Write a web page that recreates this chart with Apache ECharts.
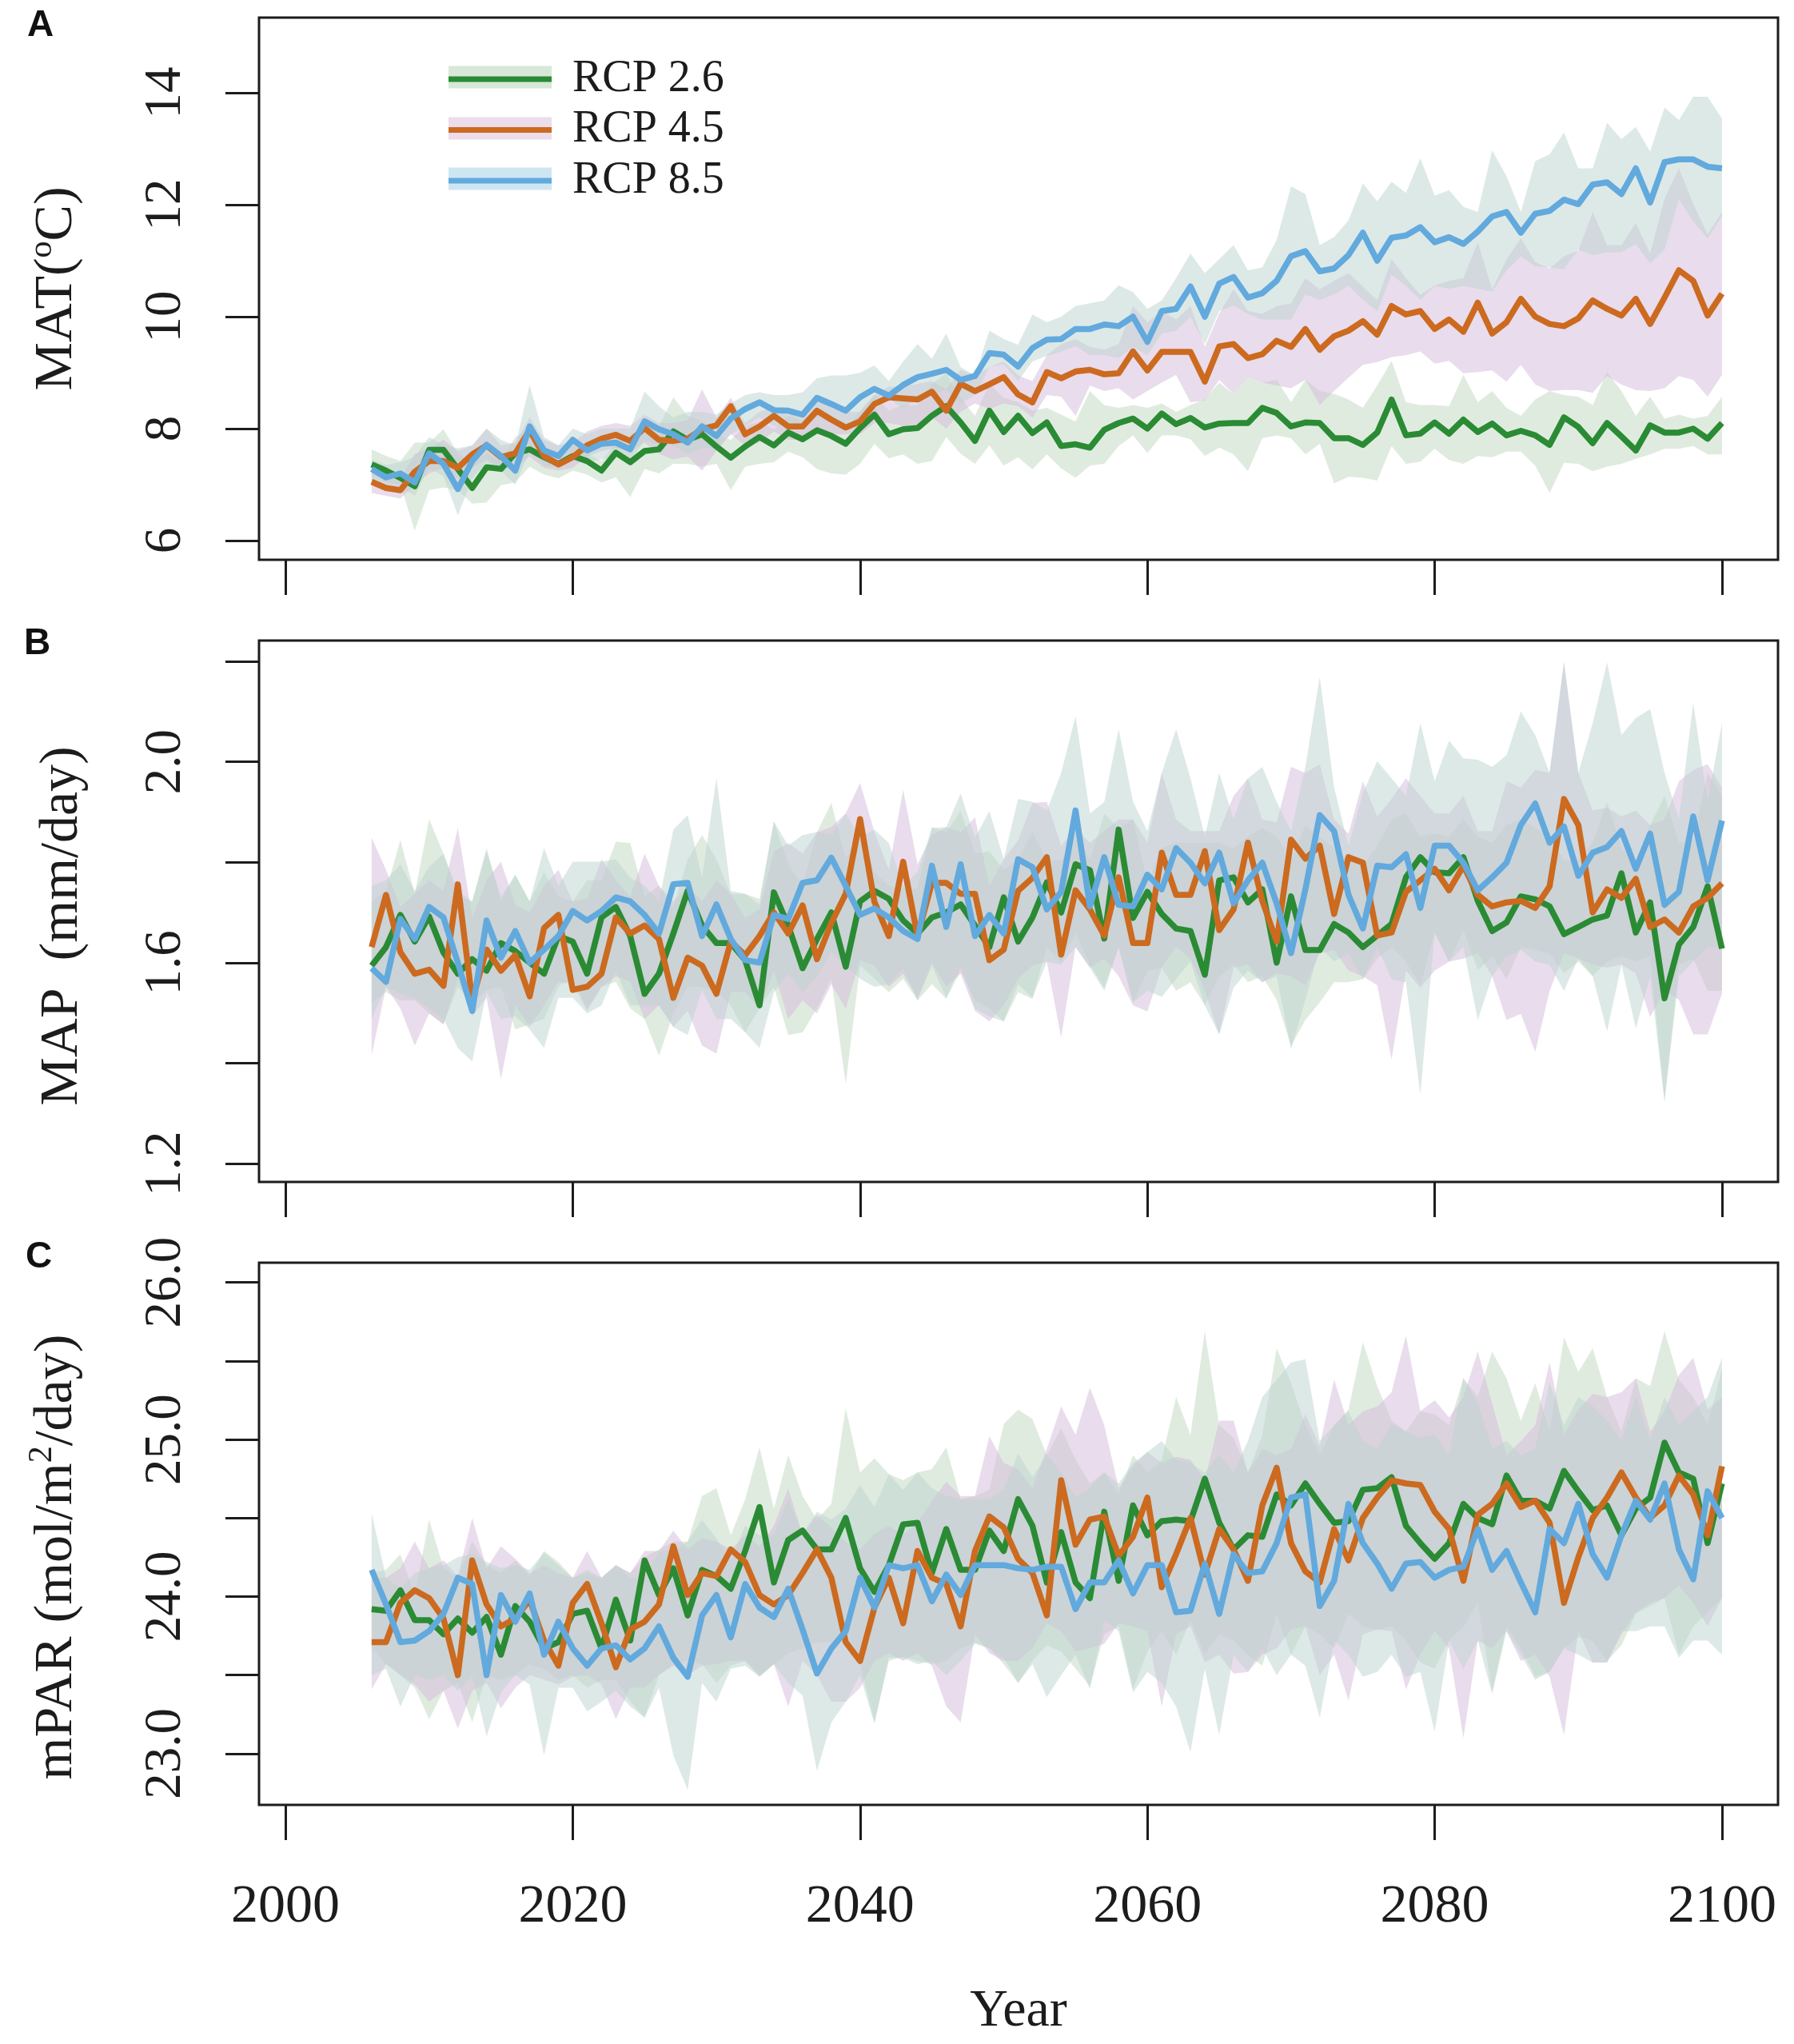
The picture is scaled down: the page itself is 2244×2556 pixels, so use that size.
<!DOCTYPE html>
<html>
<head>
<meta charset="utf-8">
<title>RCP scenarios</title>
<script src="https://cdn.jsdelivr.net/npm/echarts@6/dist/echarts.min.js"></script>
<style>
  html, body { margin: 0; padding: 0; background: #fff; }
  #chart { width: 2244px; height: 2556px; }
</style>
</head>
<body>
<div id="chart"></div>
<script>
var years = [
  2006,2007,2008,2009,2010,2011,2012,2013,2014,2015,
  2016,2017,2018,2019,2020,2021,2022,2023,2024,2025,
  2026,2027,2028,2029,2030,2031,2032,2033,2034,2035,
  2036,2037,2038,2039,2040,2041,2042,2043,2044,2045,
  2046,2047,2048,2049,2050,2051,2052,2053,2054,2055,
  2056,2057,2058,2059,2060,2061,2062,2063,2064,2065,
  2066,2067,2068,2069,2070,2071,2072,2073,2074,2075,
  2076,2077,2078,2079,2080,2081,2082,2083,2084,2085,
  2086,2087,2088,2089,2090,2091,2092,2093,2094,2095,
  2096,2097,2098,2099,2100
];

var rcpNames = ['RCP 2.6', 'RCP 4.5', 'RCP 8.5'];
var xTicks = [2000, 2020, 2040, 2060, 2080, 2100];
var matTicks = [6, 8, 10, 12, 14];
var mapTicks = [1.2, 1.4, 1.6, 1.8, 2.0, 2.2];
var mapLabels = [1.2, 1.6, 2.0];
var parTicks = [23, 23.5, 24, 24.5, 25, 25.5, 26];
var parLabels = [23, 24, 25, 26];

// panel A, MAT
var mat26 = [
  7.36,7.25,7.12,6.97,7.62,7.62,7.28,6.94,7.31,7.28,
  7.56,7.63,7.49,7.37,7.51,7.42,7.25,7.57,7.40,7.60,
  7.63,7.95,7.80,7.90,7.68,7.48,7.68,7.85,7.70,7.93,
  7.81,7.97,7.87,7.73,8.01,8.25,7.90,7.99,8.01,8.23,
  8.40,8.11,7.78,8.32,7.94,8.23,7.92,8.11,7.69,7.72,
  7.66,7.98,8.10,8.18,8.00,8.27,8.08,8.19,8.02,8.09,
  8.10,8.10,8.37,8.28,8.04,8.11,8.10,7.83,7.83,7.71,
  7.93,8.52,7.88,7.91,8.11,7.91,8.16,7.94,8.09,7.88,
  7.96,7.88,7.71,8.20,8.03,7.74,8.10,7.86,7.61,8.06,
  7.93,7.93,8.00,7.82,8.10
];
var mat45 = [
  7.05,6.94,6.90,7.23,7.42,7.42,7.30,7.54,7.70,7.49,
  7.56,7.97,7.51,7.36,7.49,7.70,7.82,7.89,7.78,8.01,
  7.80,7.78,7.82,7.99,8.06,8.40,7.90,8.04,8.23,8.04,
  8.04,8.32,8.16,8.02,8.13,8.44,8.56,8.54,8.52,8.66,
  8.32,8.80,8.67,8.79,8.92,8.61,8.47,9.01,8.90,9.02,
  9.05,8.97,8.99,9.38,9.04,9.37,9.37,9.37,8.84,9.47,
  9.51,9.26,9.33,9.57,9.46,9.78,9.41,9.65,9.75,9.92,
  9.68,10.19,10.04,10.10,9.78,9.95,9.73,10.25,9.70,9.90,
  10.32,10.00,9.87,9.83,9.97,10.29,10.14,10.02,10.32,9.87,
  10.34,10.83,10.64,10.02,10.41
];
var mat85 = [
  7.28,7.13,7.20,7.04,7.56,7.37,6.92,7.42,7.71,7.51,
  7.25,8.04,7.61,7.51,7.80,7.61,7.73,7.75,7.63,8.13,
  7.99,7.90,7.75,8.04,7.87,8.18,8.35,8.47,8.33,8.32,
  8.25,8.55,8.44,8.32,8.56,8.71,8.59,8.78,8.92,8.98,
  9.05,8.87,8.94,9.35,9.32,9.11,9.44,9.59,9.60,9.78,
  9.78,9.86,9.83,10.00,9.55,10.10,10.14,10.54,10.00,10.59,
  10.71,10.34,10.42,10.64,11.08,11.17,10.81,10.86,11.10,11.50,
  11.00,11.41,11.45,11.60,11.33,11.42,11.30,11.52,11.79,11.87,
  11.50,11.84,11.89,12.09,12.01,12.36,12.40,12.19,12.65,12.04,
  12.76,12.81,12.81,12.68,12.65
];
var mat26Hi = [
  7.63,7.51,7.42,7.75,7.75,7.99,7.56,7.37,7.56,7.42,
  7.85,7.99,7.66,7.56,7.70,7.56,7.42,7.75,7.66,8.18,
  8.04,8.56,8.23,8.13,7.90,7.80,8.04,8.13,7.99,8.23,
  8.13,8.28,8.23,7.99,8.32,8.61,8.32,8.42,8.42,8.80,
  8.99,8.55,8.23,8.80,8.55,8.47,8.32,8.37,8.25,8.13,
  8.67,8.42,8.37,8.42,8.37,8.45,8.30,8.42,8.52,8.82,
  8.62,8.91,8.82,8.87,8.47,8.87,8.67,8.62,8.52,8.37,
  8.77,9.21,8.47,8.42,8.42,8.40,8.96,8.47,8.67,8.37,
  8.23,8.52,8.67,8.60,8.57,8.42,9.01,8.67,8.23,8.57,
  8.18,8.25,8.18,8.23,8.57
];
var mat26Lo = [
  7.18,7.04,7.00,6.18,6.90,6.95,6.90,6.66,6.68,6.99,
  7.04,7.32,7.18,7.11,7.25,7.18,7.04,7.13,6.78,7.28,
  7.20,7.37,7.37,7.32,7.37,6.90,7.32,7.37,7.40,7.59,
  7.49,7.28,7.20,7.18,7.37,7.73,7.47,7.54,7.37,7.42,
  7.85,7.55,7.37,7.70,7.34,7.49,7.27,7.54,7.29,7.12,
  7.34,7.37,7.69,7.88,7.56,7.88,7.88,7.81,7.51,7.66,
  7.54,7.24,7.83,7.88,7.83,7.54,7.73,7.02,7.14,7.12,
  7.07,7.69,7.37,7.41,7.64,7.44,7.37,7.51,7.49,7.59,
  7.59,7.34,6.85,7.39,7.37,7.24,7.32,7.37,7.46,7.54,
  7.64,7.64,7.69,7.54,7.54
];
var mat45Hi = [
  7.20,7.15,7.10,7.55,7.65,7.80,7.60,7.70,8.00,7.70,
  7.75,8.20,7.80,7.70,7.75,7.95,8.05,8.10,8.05,8.25,
  8.10,8.10,8.15,8.70,8.20,8.55,8.10,8.30,8.40,8.25,
  8.30,8.55,8.40,8.30,8.30,8.60,8.75,8.75,8.80,8.85,
  8.70,9.05,8.95,9.10,9.20,8.95,8.85,9.31,9.51,9.60,
  9.46,9.41,9.51,10.19,9.90,10.10,9.95,10.19,9.46,10.05,
  10.49,10.10,10.05,10.19,10.24,10.69,10.49,10.64,10.78,10.54,
  10.29,11.03,10.69,10.39,10.56,10.64,10.69,11.33,10.49,11.03,
  11.40,10.98,10.86,11.08,11.18,11.87,11.28,11.28,11.67,11.13,
  12.11,12.65,12.01,11.47,11.87
];
var mat45Lo = [
  6.85,6.80,6.75,7.00,7.20,7.30,7.10,7.30,7.45,7.30,
  7.30,7.50,7.30,7.25,7.30,7.50,7.60,7.65,7.60,7.75,
  7.55,7.45,7.50,7.25,7.60,7.90,7.70,7.75,7.95,7.80,
  7.80,8.00,7.90,7.90,7.90,8.10,8.10,8.05,8.05,8.20,
  8.00,8.30,8.45,8.35,8.45,8.40,8.20,8.60,8.57,8.23,
  8.77,8.67,8.72,8.52,8.67,8.82,8.96,8.47,8.50,8.87,
  8.62,8.91,8.82,8.77,8.72,8.87,8.42,8.67,8.91,9.14,
  9.19,9.28,9.31,9.38,9.16,9.21,8.99,9.01,9.04,8.84,
  9.14,8.79,8.67,8.69,8.69,8.64,8.94,8.79,8.69,8.67,
  8.72,8.94,8.87,8.57,8.96
];
var mat85Hi = [
  7.45,7.35,7.40,7.50,7.85,7.70,7.65,7.70,8.00,7.80,
  7.70,8.78,7.85,7.70,8.00,7.90,8.00,8.00,8.00,8.66,
  8.40,8.20,8.30,8.30,8.25,8.45,8.60,8.65,8.60,8.60,
  8.65,8.90,8.95,8.95,9.00,9.13,8.85,9.20,9.51,9.25,
  9.70,9.10,8.95,9.75,9.60,9.50,10.04,9.90,10.00,10.19,
  10.24,10.29,10.56,10.44,10.14,10.29,10.69,11.13,10.78,11.03,
  11.28,10.83,10.88,11.37,12.33,12.19,11.28,11.42,11.72,12.38,
  12.06,12.41,12.21,12.83,12.16,12.26,11.96,11.87,12.97,12.51,
  11.87,12.78,12.90,13.29,12.65,12.65,13.46,13.17,13.39,12.95,
  13.74,13.51,13.93,13.93,13.54
];
var mat85Lo = [
  7.00,6.95,6.95,6.80,7.30,7.15,6.45,7.10,7.40,7.25,
  7.00,7.60,7.35,7.30,7.55,7.40,7.45,7.50,7.40,7.80,
  7.70,7.70,7.55,7.65,7.65,7.90,8.05,8.20,8.05,8.05,
  8.00,8.20,8.15,8.05,8.20,8.40,8.55,8.35,8.55,8.60,
  8.70,8.45,8.60,9.10,9.15,8.85,9.20,9.30,9.38,9.48,
  9.31,9.31,9.26,9.46,9.31,9.70,9.75,10.00,9.51,10.10,
  10.20,10.05,9.95,9.95,9.95,10.40,10.30,10.40,10.55,10.30,
  10.10,10.75,10.55,10.30,10.55,10.50,10.55,10.50,10.45,10.83,
  11.08,10.90,10.88,10.85,11.20,11.10,11.15,11.15,11.30,10.95,
  11.20,12.10,11.70,11.40,11.80
];

// panel B, MAP
var map26 = [
  1.594,1.631,1.695,1.642,1.692,1.62,1.578,1.607,1.584,1.639,
  1.623,1.6,1.578,1.653,1.642,1.578,1.69,1.711,1.653,1.538,
  1.578,1.658,1.743,1.674,1.639,1.639,1.605,1.515,1.74,1.674,
  1.589,1.647,1.7,1.592,1.722,1.743,1.727,1.684,1.658,1.69,
  1.7,1.716,1.674,1.631,1.73,1.642,1.69,1.76,1.7,1.796,
  1.784,1.648,1.865,1.689,1.741,1.697,1.668,1.663,1.576,1.764,
  1.77,1.72,1.746,1.6,1.732,1.625,1.625,1.677,1.66,1.631,
  1.654,1.677,1.77,1.81,1.78,1.778,1.81,1.723,1.663,1.68,
  1.732,1.726,1.712,1.657,1.671,1.686,1.694,1.778,1.66,1.72,
  1.529,1.636,1.671,1.752,1.628
];
var map45 = [
  1.631,1.735,1.621,1.578,1.586,1.554,1.756,1.525,1.626,1.584,
  1.615,1.533,1.669,1.695,1.546,1.552,1.578,1.69,1.658,1.674,
  1.647,1.53,1.61,1.594,1.538,1.642,1.615,1.653,1.7,1.658,
  1.714,1.607,1.679,1.737,1.886,1.721,1.653,1.801,1.653,1.759,
  1.759,1.737,1.737,1.605,1.626,1.743,1.769,1.81,1.616,1.744,
  1.706,1.654,1.77,1.639,1.639,1.819,1.735,1.735,1.822,1.665,
  1.706,1.839,1.723,1.642,1.845,1.807,1.833,1.697,1.81,1.799,
  1.654,1.66,1.741,1.764,1.787,1.744,1.793,1.735,1.712,1.72,
  1.723,1.709,1.752,1.926,1.874,1.7,1.746,1.729,1.767,1.671,
  1.686,1.66,1.712,1.729,1.758
];
var map85 = [
  1.589,1.562,1.687,1.647,1.711,1.69,1.6,1.504,1.684,1.61,
  1.663,1.6,1.626,1.653,1.703,1.684,1.703,1.73,1.722,1.695,
  1.658,1.756,1.759,1.653,1.716,1.647,1.605,1.6,1.695,1.687,
  1.759,1.764,1.809,1.753,1.695,1.708,1.69,1.663,1.647,1.793,
  1.671,1.796,1.653,1.695,1.658,1.806,1.79,1.706,1.741,1.903,
  1.712,1.81,1.715,1.712,1.775,1.746,1.828,1.799,1.758,1.819,
  1.718,1.764,1.799,1.718,1.619,1.746,1.894,1.862,1.735,1.668,
  1.793,1.79,1.816,1.709,1.833,1.833,1.799,1.744,1.77,1.799,
  1.874,1.917,1.839,1.871,1.773,1.819,1.83,1.862,1.787,1.857,
  1.715,1.741,1.891,1.764,1.883
];
var map26Hi = [
  1.722,1.743,1.844,1.737,1.886,1.817,1.732,1.722,1.828,1.722,
  1.775,1.722,1.78,1.732,1.722,1.764,1.764,1.841,1.838,1.732,
  1.753,1.711,1.806,1.854,1.806,1.737,1.737,1.727,1.881,1.796,
  1.753,1.86,1.918,1.806,1.86,1.78,1.753,1.748,1.748,1.87,
  1.86,1.902,1.817,1.822,1.785,1.806,1.86,1.804,1.804,1.862,
  1.804,1.897,1.868,1.885,1.758,1.828,1.839,1.839,1.839,1.839,
  1.828,1.851,1.868,1.851,1.804,1.874,1.851,1.828,1.804,1.793,
  1.833,1.885,1.897,1.851,1.857,1.851,1.885,1.851,1.839,1.874,
  1.885,1.868,1.851,1.804,1.804,1.839,1.92,1.828,1.804,1.874,
  1.932,1.839,1.845,1.978,1.932
];
var map26Lo = [
  1.52,1.541,1.525,1.525,1.499,1.477,1.552,1.52,1.546,1.552,
  1.467,1.477,1.488,1.552,1.573,1.509,1.552,1.562,1.509,1.488,
  1.414,1.499,1.552,1.552,1.541,1.515,1.461,1.509,1.552,1.456,
  1.461,1.509,1.568,1.358,1.594,1.568,1.541,1.568,1.525,1.557,
  1.528,1.584,1.525,1.509,1.483,1.541,1.528,1.631,1.602,1.66,
  1.596,1.55,1.631,1.521,1.584,1.59,1.544,1.561,1.515,1.573,
  1.596,1.561,1.573,1.526,1.434,1.486,1.521,1.561,1.561,1.567,
  1.608,1.631,1.602,1.555,1.66,1.602,1.665,1.584,1.613,1.567,
  1.631,1.625,1.619,1.579,1.602,1.573,1.602,1.613,1.602,1.613,
  1.324,1.596,1.608,1.544,1.544
];
var map45Hi = [
  1.849,1.785,1.711,1.737,1.764,1.743,1.868,1.69,1.764,1.801,
  1.716,1.7,1.753,1.785,1.722,1.727,1.806,1.764,1.732,1.817,
  1.753,1.722,1.753,1.722,1.764,1.737,1.69,1.706,1.822,1.838,
  1.817,1.86,1.87,1.897,1.958,1.86,1.785,1.944,1.796,1.854,
  1.87,1.86,1.889,1.753,1.806,1.844,1.918,1.92,1.833,1.868,
  1.839,1.862,1.885,1.885,1.839,1.978,1.885,1.862,1.862,1.862,
  1.932,1.967,1.885,1.88,1.99,1.978,1.995,1.885,1.857,1.961,
  1.891,1.926,1.967,1.932,1.897,1.897,1.932,1.862,1.862,1.961,
  1.949,1.984,1.978,2.198,1.978,1.903,1.909,1.891,1.903,1.874,
  1.885,1.961,1.984,1.995,1.949
];
var map45Lo = [
  1.416,1.552,1.509,1.435,1.499,1.477,1.568,1.493,1.53,1.369,
  1.515,1.472,1.515,1.562,1.557,1.504,1.552,1.573,1.562,1.488,
  1.515,1.472,1.504,1.435,1.419,1.541,1.541,1.509,1.584,1.488,
  1.525,1.499,1.557,1.509,1.605,1.594,1.552,1.578,1.53,1.6,
  1.552,1.578,1.504,1.483,1.515,1.568,1.594,1.602,1.451,1.631,
  1.59,1.608,1.573,1.515,1.503,1.59,1.631,1.608,1.544,1.457,
  1.59,1.596,1.561,1.579,1.573,1.555,1.619,1.625,1.584,1.573,
  1.555,1.408,1.584,1.55,1.584,1.602,1.608,1.619,1.573,1.486,
  1.498,1.422,1.544,1.619,1.608,1.596,1.59,1.596,1.579,1.492,
  1.544,1.526,1.457,1.457,1.538
];
var map85Hi = [
  1.753,1.764,1.796,1.743,1.791,1.817,1.743,1.722,1.822,1.732,
  1.775,1.722,1.828,1.753,1.801,1.801,1.801,1.806,1.769,1.753,
  1.722,1.865,1.894,1.769,1.968,1.743,1.737,1.716,1.881,1.833,
  1.854,1.86,1.854,1.897,1.85,1.865,1.838,1.753,1.78,1.868,
  1.87,1.937,1.849,1.902,1.806,1.926,1.92,1.903,1.978,2.091,
  1.897,1.92,2.065,1.92,1.862,1.978,2.065,1.967,1.851,1.978,
  1.885,1.967,1.99,1.92,1.862,1.99,2.169,1.949,1.833,1.938,
  2.001,1.967,1.932,2.077,1.961,2.042,2.007,2.004,1.99,2.013,
  2.1,2.053,1.978,2.198,1.978,2.077,2.198,2.053,2.087,2.105,
  1.978,1.885,2.117,1.92,2.077
];
var map85Lo = [
  1.488,1.552,1.538,1.53,1.509,1.488,1.43,1.403,1.541,1.488,
  1.493,1.467,1.43,1.53,1.53,1.499,1.515,1.584,1.515,1.515,
  1.515,1.472,1.456,1.546,1.488,1.488,1.461,1.43,1.541,1.578,
  1.541,1.573,1.621,1.594,1.568,1.552,1.557,1.589,1.525,1.594,
  1.53,1.594,1.509,1.493,1.483,1.557,1.53,1.602,1.596,1.631,
  1.59,1.544,1.631,1.521,1.544,1.532,1.567,1.602,1.515,1.457,
  1.55,1.584,1.561,1.573,1.428,1.526,1.631,1.602,1.619,1.567,
  1.631,1.567,1.561,1.338,1.66,1.602,1.631,1.486,1.573,1.613,
  1.625,1.602,1.596,1.544,1.608,1.573,1.463,1.596,1.469,1.573,
  1.324,1.573,1.602,1.631,1.631
];

// panel C, mPAR
var par26 = [
  23.92,23.91,24.04,23.85,23.85,23.76,23.86,23.77,23.87,23.63,
  23.94,23.84,23.67,23.71,23.89,23.91,23.67,23.98,23.72,24.23,
  24.01,24.18,23.88,24.17,24.13,24.05,24.29,24.57,24.09,24.36,
  24.42,24.30,24.30,24.50,24.18,24.03,24.20,24.46,24.47,24.15,
  24.43,24.17,24.17,24.42,24.29,24.62,24.45,24.09,24.41,24.09,
  23.99,24.54,24.10,24.58,24.39,24.48,24.49,24.48,24.75,24.47,
  24.30,24.39,24.38,24.65,24.58,24.72,24.59,24.47,24.48,24.68,
  24.69,24.76,24.45,24.34,24.24,24.34,24.59,24.50,24.46,24.77,
  24.61,24.61,24.56,24.80,24.67,24.55,24.58,24.39,24.56,24.63,
  24.98,24.79,24.75,24.34,24.72
];
var par45 = [
  23.71,23.71,23.96,24.04,23.99,23.86,23.50,24.23,23.95,23.81,
  23.86,23.98,23.72,23.56,23.96,24.08,23.83,23.55,23.79,23.84,
  23.95,24.32,24.01,24.15,24.13,24.30,24.22,24.01,23.95,24.01,
  24.15,24.30,24.12,23.71,23.59,23.93,24.12,23.83,24.29,24.12,
  24.08,23.81,24.29,24.51,24.44,24.24,24.15,23.88,24.74,24.33,
  24.49,24.51,24.26,24.38,24.63,24.06,24.27,24.50,24.14,24.43,
  24.30,24.10,24.58,24.82,24.34,24.16,24.09,24.43,24.23,24.50,
  24.63,24.74,24.72,24.71,24.54,24.43,24.10,24.52,24.59,24.72,
  24.57,24.61,24.47,23.96,24.25,24.50,24.63,24.79,24.63,24.50,
  24.58,24.77,24.65,24.39,24.83
];
var par85 = [
  24.17,23.95,23.71,23.72,23.78,23.89,24.12,24.08,23.50,24.01,
  23.84,24.02,23.63,23.84,23.67,23.56,23.67,23.69,23.60,23.67,
  23.81,23.61,23.49,23.88,24.01,23.74,24.08,23.93,23.87,24.05,
  23.79,23.51,23.67,23.78,24.12,23.93,24.20,24.18,24.20,23.97,
  24.14,24.01,24.20,24.20,24.20,24.18,24.17,24.19,24.19,23.92,
  24.09,24.09,24.23,24.02,24.20,24.20,23.90,23.91,24.21,23.89,
  24.27,24.15,24.16,24.34,24.63,24.65,23.94,24.10,24.59,24.34,
  24.21,24.05,24.21,24.22,24.12,24.17,24.19,24.43,24.17,24.29,
  24.09,23.90,24.43,24.34,24.59,24.27,24.12,24.39,24.61,24.49,
  24.72,24.30,24.11,24.67,24.50
];
var par26Hi = [
  24.15,24.17,24.27,24.01,24.49,24.18,24.12,24.35,24.20,24.15,
  24.23,24.13,24.29,24.22,24.12,24.15,24.12,24.20,24.15,24.25,
  24.30,24.35,24.35,24.64,24.69,24.39,24.62,24.95,24.56,24.90,
  24.64,24.49,24.59,25.20,24.79,24.88,24.78,24.74,24.79,24.81,
  24.95,24.62,24.64,24.68,25.10,25.19,25.13,24.90,25.07,24.87,
  24.72,24.79,24.65,24.90,24.79,24.87,25.27,25.03,25.69,25.09,
  25.01,24.79,25.03,25.58,25.36,25.09,24.90,25.09,25.19,25.62,
  25.34,25.12,25.05,25.18,25.16,25.09,25.39,25.27,25.56,25.39,
  25.12,25.36,25.05,25.65,25.43,25.58,25.27,25.05,25.39,25.34,
  25.69,25.38,25.27,25.09,25.45
];
var par26Lo = [
  23.67,23.57,23.50,23.42,23.22,23.40,23.45,23.20,23.50,23.47,
  23.50,23.57,23.54,23.47,23.50,23.42,23.47,23.47,23.33,23.23,
  23.50,23.57,23.59,23.57,23.45,23.56,23.59,23.49,23.57,23.64,
  23.67,23.71,23.71,23.72,23.57,23.20,23.59,23.62,23.59,23.57,
  23.59,23.67,23.71,23.67,23.57,23.45,23.59,23.69,23.65,23.54,
  23.43,23.76,23.81,23.41,23.65,23.78,23.63,23.85,23.63,23.76,
  23.72,23.63,23.56,23.89,23.63,23.81,23.76,23.67,23.89,23.81,
  23.79,23.81,23.72,23.58,23.54,23.72,23.81,23.96,23.39,23.81,
  23.67,23.49,23.52,23.67,23.74,23.72,23.59,23.69,23.89,23.94,
  23.99,23.63,23.81,23.90,23.99
];
var par45Hi = [
  24.12,24.12,24.18,24.35,24.18,24.23,24.13,24.50,24.18,24.32,
  24.24,24.15,24.20,24.15,24.12,24.29,24.12,24.20,24.15,24.29,
  24.29,24.42,24.30,24.37,24.35,24.30,24.39,24.32,24.45,24.69,
  24.39,24.52,24.44,24.35,24.30,24.40,24.45,24.39,24.47,24.61,
  24.73,24.64,24.64,25.02,24.85,24.81,24.69,24.94,25.21,25.03,
  25.33,25.09,24.69,24.83,24.92,24.85,24.89,24.87,24.74,25.12,
  25.12,24.79,24.94,24.90,24.94,25.16,24.96,25.38,25.09,25.18,
  25.21,25.30,25.66,25.18,25.25,25.14,25.27,25.56,25.23,24.90,
  24.99,25.09,25.49,25.03,25.19,25.29,25.27,25.30,25.39,25.05,
  25.18,25.41,25.52,25.19,25.27
];
var par45Lo = [
  23.41,23.57,23.50,23.44,23.33,23.40,23.16,23.40,23.45,23.29,
  23.42,23.50,23.47,23.44,23.49,23.50,23.44,23.22,23.42,23.42,
  23.50,23.56,23.50,23.56,23.57,23.59,23.59,23.50,23.57,23.30,
  23.59,23.50,23.33,23.33,23.42,23.59,23.64,23.59,23.64,23.56,
  23.30,23.20,23.76,23.64,23.59,23.59,23.67,23.83,23.78,23.65,
  23.67,23.70,23.83,23.81,23.78,23.30,23.76,23.81,23.58,23.63,
  23.51,23.52,23.63,23.67,23.79,23.81,23.50,23.63,23.34,23.76,
  23.79,23.78,23.41,23.63,23.78,23.67,23.10,23.72,23.67,23.78,
  23.59,23.63,23.49,23.12,23.78,23.58,23.58,23.76,23.90,23.96,
  23.99,24.07,23.96,23.81,23.99
];
var par85Hi = [
  24.53,24.12,24.05,24.15,24.18,24.20,24.25,24.27,24.22,24.18,
  24.20,24.17,24.28,24.20,24.12,24.17,24.12,24.20,24.12,24.12,
  24.29,24.29,24.35,24.49,24.37,24.23,24.45,24.39,24.39,24.62,
  24.40,24.54,24.49,24.56,24.71,24.57,24.78,24.68,24.79,24.69,
  24.64,24.62,24.62,24.62,24.68,24.91,24.76,24.90,24.79,24.63,
  24.69,24.79,24.72,24.85,24.92,24.99,24.87,24.85,24.79,24.90,
  24.79,24.99,25.27,25.38,25.49,25.51,24.99,25.09,25.18,24.99,
  24.94,25.10,25.05,25.01,25.03,24.90,25.39,25.23,24.94,24.99,
  24.90,24.94,25.36,25.09,25.27,25.21,25.12,24.99,25.27,24.99,
  25.27,25.09,25.18,25.27,25.52
];
var par85Lo = [
  23.50,23.54,23.30,23.50,23.47,23.50,23.40,23.50,23.11,23.39,
  23.50,23.44,22.99,23.42,23.42,23.27,23.33,23.40,23.30,23.23,
  23.42,22.99,22.77,23.45,23.33,23.54,23.56,23.49,23.57,23.45,
  23.37,22.89,23.20,23.33,23.50,23.19,23.61,23.61,23.57,23.59,
  23.50,23.59,23.70,23.67,23.61,23.45,23.57,23.36,23.50,23.63,
  23.41,23.85,23.78,23.39,23.52,23.45,23.30,23.01,23.54,23.12,
  23.63,23.52,23.67,23.50,23.63,23.56,23.23,23.72,23.63,23.49,
  23.52,23.63,23.49,23.52,23.14,23.72,23.54,23.72,23.38,23.78,
  23.63,23.47,23.52,23.67,23.63,23.58,23.58,23.78,23.78,23.81,
  23.81,23.61,23.72,23.72,23.63
];

var lineColors = ['#2a8b34', '#cc6a1f', '#62a9dd'];
var bandColors = ['rgba(193,215,193,0.5)', 'rgba(211,185,217,0.5)', 'rgba(187,211,207,0.5)'];
var serif = 'Liberation Serif';
var black = '#1c1c1c';

var panels = [
  { means: [mat26, mat45, mat85], highs: [mat26Hi, mat45Hi, mat85Hi], lows: [mat26Lo, mat45Lo, mat85Lo] },
  { means: [map26, map45, map85], highs: [map26Hi, map45Hi, map85Hi], lows: [map26Lo, map45Lo, map85Lo] },
  { means: [par26, par45, par85], highs: [par26Hi, par45Hi, par85Hi], lows: [par26Lo, par45Lo, par85Lo] }
];

function pairs(values) {
  return values.map(function (v, i) { return [years[i], v]; });
}

// one polygon per band, drawn when the first row comes through
function bandSeries(g, lows, highs, color) {
  var rows = years.map(function (y, i) { return [y, lows[i], highs[i]]; });
  return {
    type: 'custom', xAxisIndex: g, yAxisIndex: g, silent: true, z: 1,
    encode: { x: 0, y: [1, 2] },
    data: rows,
    renderItem: function (params, api) {
      if (params.dataIndex !== 0) return;
      var upper = [], lower = [];
      rows.forEach(function (r) {
        upper.push(api.coord([r[0], r[2]]));
        lower.unshift(api.coord([r[0], r[1]]));
      });
      return { type: 'polygon', shape: { points: upper.concat(lower) }, style: { fill: color } };
    }
  };
}

var series = [];
panels.forEach(function (p, g) {
  rcpNames.forEach(function (name, i) {
    series.push(bandSeries(g, p.lows[i], p.highs[i], bandColors[i]));
  });
  rcpNames.forEach(function (name, i) {
    series.push({
      type: 'line', name: name, xAxisIndex: g, yAxisIndex: g, symbol: 'none', silent: true,
      lineStyle: { color: lineColors[i], width: 7.5, join: 'round' },
      itemStyle: { color: lineColors[i] }, z: 3 + i, data: pairs(p.means[i])
    });
  });
});

function xAxis(g, withLabels) {
  return {
    type: 'value', gridIndex: g, min: 1998.16, max: 2103.9,
    axisLine: { show: false },
    splitLine: { show: false },
    axisTick: { show: true, length: 44, customValues: xTicks, lineStyle: { color: black, width: 3 } },
    axisLabel: {
      show: withLabels, customValues: xTicks, margin: 94, color: black,
      fontFamily: serif, fontSize: 68, formatter: function (v) { return String(v); }
    },
    name: withLabels ? 'Year' : '',
    nameLocation: 'middle', nameGap: 226,
    nameTextStyle: { fontFamily: serif, fontSize: 66, color: black }
  };
}

function yAxis(g, min, max, ticks, labels, digits, name, nameGap, shift) {
  return {
    type: 'value', gridIndex: g, min: min, max: max,
    axisLine: { show: false },
    splitLine: { show: false },
    axisTick: { show: true, length: 42, customValues: ticks, lineStyle: { color: black, width: 3 } },
    axisLabel: {
      show: true, customValues: labels, rotate: 90, margin: 84, color: black,
      fontFamily: serif, fontSize: 65,
      formatter: function (v) { return Number(v).toFixed(digits); }
    },
    name: name, nameLocation: 'middle', nameRotate: 90, nameGap: nameGap,
    nameTextStyle: {
      padding: [0, shift, 0, 0],
      rich: {
        a: { fontFamily: serif, fontSize: 68, color: black, lineHeight: 78 },
        s: { fontFamily: serif, fontSize: 42, color: black, lineHeight: 78, verticalAlign: 'top' }
      }
    }
  };
}

function swatch(y, color) {
  return { type: 'rect', left: 561, top: y - 14, z: 0, shape: { width: 129, height: 28 }, style: { fill: color } };
}

var letterStyle = { fontFamily: 'Liberation Sans', fontWeight: 'bold', fontSize: 46, color: '#111' };

var myChart = echarts.init(document.getElementById('chart'), null, { renderer: 'canvas' });
myChart.setOption({
  animation: false,
  backgroundColor: '#fff',
  title: [
    { text: 'A', left: 34, top: 9, padding: 0, textStyle: letterStyle },
    { text: 'B', left: 30, top: 782, padding: 0, textStyle: letterStyle },
    { text: 'C', left: 32, top: 1549, padding: 0, textStyle: letterStyle }
  ],
  grid: [
    { left: 324, right: 20, top: 22, height: 678, show: true, borderColor: black, borderWidth: 3, backgroundColor: 'transparent' },
    { left: 324, right: 20, top: 801, height: 677, show: true, borderColor: black, borderWidth: 3, backgroundColor: 'transparent' },
    { left: 324, right: 20, top: 1579, height: 678, show: true, borderColor: black, borderWidth: 3, backgroundColor: 'transparent' }
  ],
  xAxis: [xAxis(0, false), xAxis(1, false), xAxis(2, true)],
  yAxis: [
    yAxis(0, 5.657, 15.343, matTicks, matTicks, 0, '{a|MAT(}{s|o}{a|C)}', 214, 0),
    yAxis(1, 1.1634, 2.2414, mapTicks, mapLabels, 1, '{a|MAP  (mm/day)}', 207, 37),
    yAxis(2, 22.674, 26.125, parTicks, parLabels, 1, '{a|mPAR (mol/m}{s|2}{a|/day)}', 214, 58)
  ],
  legend: {
    left: 561, top: 71, orient: 'vertical', padding: 0, itemGap: 7.5,
    itemWidth: 129, itemHeight: 7, selectedMode: false, icon: 'rect',
    data: rcpNames,
    textStyle: { fontFamily: serif, fontSize: 56, color: black, padding: [0, 0, 0, 21] }
  },
  graphic: [swatch(96.5, '#d8e8d8'), swatch(160.5, '#ecdcec'), swatch(223.5, '#cde6f2')],
  series: series
});
</script>
</body>
</html>
